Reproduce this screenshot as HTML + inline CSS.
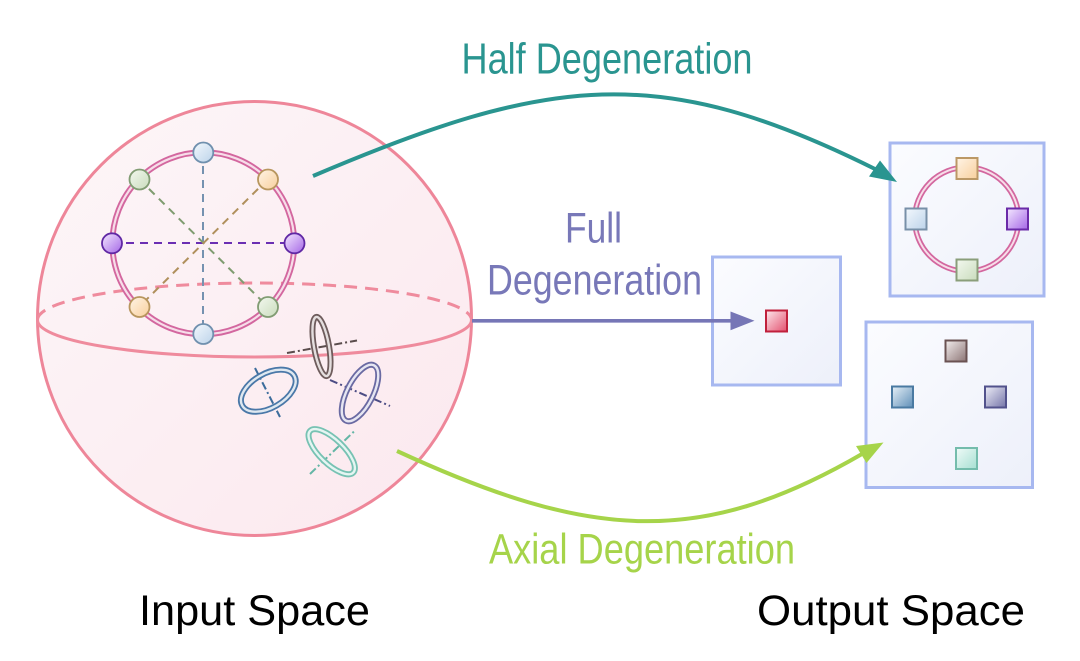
<!DOCTYPE html>
<html>
<head>
<meta charset="utf-8">
<style>
  html,body{margin:0;padding:0;background:#fff;}
  svg{display:block;}
  text{font-family:"Liberation Sans", Arial, sans-serif;}
</style>
</head>
<body>
<svg width="1080" height="661" viewBox="0 0 1080 661" xmlns="http://www.w3.org/2000/svg">
  <defs>
    <linearGradient id="sph" x1="0" y1="0" x2="1" y2="1">
      <stop offset="0" stop-color="#fdf6f8"/>
      <stop offset="1" stop-color="#fbe8ee"/>
    </linearGradient>
    <linearGradient id="box" x1="0" y1="0" x2="1" y2="1">
      <stop offset="0" stop-color="#fbfcff"/>
      <stop offset="1" stop-color="#edf0fa"/>
    </linearGradient>
    <linearGradient id="gOr" x1="0" y1="0" x2="1" y2="1"><stop offset="0" stop-color="#fff4e6"/><stop offset="1" stop-color="#f8cf9c"/></linearGradient>
    <linearGradient id="gBl" x1="0" y1="0" x2="1" y2="1"><stop offset="0" stop-color="#f3f8fd"/><stop offset="1" stop-color="#bcd3ea"/></linearGradient>
    <linearGradient id="gPu" x1="0" y1="0" x2="1" y2="1"><stop offset="0" stop-color="#f4e8ff"/><stop offset="1" stop-color="#a466e6"/></linearGradient>
    <linearGradient id="gGr" x1="0" y1="0" x2="1" y2="1"><stop offset="0" stop-color="#f3f8ef"/><stop offset="1" stop-color="#c9dcbc"/></linearGradient>
    <linearGradient id="gRe" x1="0" y1="0" x2="1" y2="1"><stop offset="0" stop-color="#fde8ec"/><stop offset="1" stop-color="#e3506e"/></linearGradient>
    <linearGradient id="gBr" x1="0" y1="0" x2="1" y2="1"><stop offset="0" stop-color="#f3eeee"/><stop offset="1" stop-color="#8c7474"/></linearGradient>
    <linearGradient id="gSb" x1="0" y1="0" x2="1" y2="1"><stop offset="0" stop-color="#e6f0f7"/><stop offset="1" stop-color="#5f8fb8"/></linearGradient>
    <linearGradient id="gDp" x1="0" y1="0" x2="1" y2="1"><stop offset="0" stop-color="#eeeef8"/><stop offset="1" stop-color="#7474a8"/></linearGradient>
    <linearGradient id="gTe" x1="0" y1="0" x2="1" y2="1"><stop offset="0" stop-color="#f0fbf8"/><stop offset="1" stop-color="#a6dfd2"/></linearGradient>
  </defs>

  <!-- Sphere -->
  <circle cx="254.5" cy="318.5" r="217" fill="url(#sph)" stroke="#ee8699" stroke-width="3"/>

  <!-- equator -->
  <path d="M37.5,320 A217,37 0 0 1 471.5,320" fill="none" stroke="#ef8b9d" stroke-width="3" stroke-dasharray="13 8"/>
  <path d="M37.5,320 A217,37 0 0 0 471.5,320" fill="none" stroke="#ef8b9d" stroke-width="3"/>

  <!-- diameters -->
  <line x1="203" y1="152" x2="203" y2="334" stroke="#7592b0" stroke-width="2" stroke-dasharray="8 6"/>
  <line x1="112" y1="243" x2="294" y2="243" stroke="#6b2fb3" stroke-width="2" stroke-dasharray="8 6"/>
  <line x1="139" y1="179" x2="268" y2="307" stroke="#7f9c70" stroke-width="2" stroke-dasharray="8 6"/>
  <line x1="268" y1="179" x2="139" y2="307" stroke="#b0905c" stroke-width="2" stroke-dasharray="8 6"/>

  <!-- ring -->
  <circle cx="203.3" cy="243.3" r="91" fill="none" stroke="#d3679f" stroke-width="6"/>
  <circle cx="203.3" cy="243.3" r="91" fill="none" stroke="#f7dde9" stroke-width="2.2"/>

  <!-- circle nodes -->
  <circle cx="203.3" cy="152.5" r="10" fill="url(#gBl)" stroke="#7090ae" stroke-width="1.8"/>
  <circle cx="203.3" cy="334" r="10" fill="url(#gBl)" stroke="#7090ae" stroke-width="1.8"/>
  <circle cx="112" cy="243.3" r="10" fill="url(#gPu)" stroke="#6028a4" stroke-width="1.8"/>
  <circle cx="294.5" cy="243.3" r="10" fill="url(#gPu)" stroke="#6028a4" stroke-width="1.8"/>
  <circle cx="139.5" cy="179.5" r="10" fill="url(#gGr)" stroke="#819c73" stroke-width="1.8"/>
  <circle cx="268" cy="307" r="10" fill="url(#gGr)" stroke="#819c73" stroke-width="1.8"/>
  <circle cx="268" cy="179.5" r="10" fill="url(#gOr)" stroke="#b8965e" stroke-width="1.8"/>
  <circle cx="139.5" cy="307" r="10" fill="url(#gOr)" stroke="#b8965e" stroke-width="1.8"/>

  <!-- tori: brown -->
  <line x1="287" y1="353" x2="357" y2="340.5" stroke="#5a4c4c" stroke-width="2" stroke-dasharray="8 3 2 3"/>
  <ellipse cx="321.5" cy="346.5" rx="7.5" ry="30" transform="rotate(-10 321.5 346.5)" fill="none" stroke="#6e5c5c" stroke-width="6"/>
  <ellipse cx="321.5" cy="346.5" rx="7.5" ry="30" transform="rotate(-10 321.5 346.5)" fill="none" stroke="#e4dede" stroke-width="2.4"/>

  <!-- blue -->
  <line x1="255" y1="368" x2="280" y2="417" stroke="#3d6d9c" stroke-width="2" stroke-dasharray="8 3 2 3"/>
  <ellipse cx="268.3" cy="390.7" rx="30" ry="17" transform="rotate(-30 268.3 390.7)" fill="none" stroke="#4a78a8" stroke-width="6"/>
  <ellipse cx="268.3" cy="390.7" rx="30" ry="17" transform="rotate(-30 268.3 390.7)" fill="none" stroke="#dfe8f0" stroke-width="2.4"/>

  <!-- purple -->
  <line x1="330" y1="380" x2="390" y2="406" stroke="#4c4c84" stroke-width="2" stroke-dasharray="8 3 2 3"/>
  <ellipse cx="360" cy="393" rx="13" ry="31" transform="rotate(27 360 393)" fill="none" stroke="#6a6aa2" stroke-width="6"/>
  <ellipse cx="360" cy="393" rx="13" ry="31" transform="rotate(27 360 393)" fill="none" stroke="#e6e6f2" stroke-width="2.4"/>

  <!-- teal -->
  <line x1="310" y1="474" x2="355" y2="430.5" stroke="#64b6a5" stroke-width="2" stroke-dasharray="8 3 2 3"/>
  <ellipse cx="331.7" cy="451.7" rx="30" ry="12" transform="rotate(44 331.7 451.7)" fill="none" stroke="#77c2b3" stroke-width="6"/>
  <ellipse cx="331.7" cy="451.7" rx="30" ry="12" transform="rotate(44 331.7 451.7)" fill="none" stroke="#e5f5f2" stroke-width="2.4"/>

  <!-- Output boxes -->
  <rect x="890" y="143" width="154" height="153" fill="url(#box)" stroke="#a7b8f0" stroke-width="3"/>
  <rect x="712.5" y="257" width="128" height="128" fill="url(#box)" stroke="#a7b8f0" stroke-width="3"/>
  <rect x="866" y="322" width="166.5" height="165.5" fill="url(#box)" stroke="#a7b8f0" stroke-width="3"/>

  <!-- ring in output -->
  <circle cx="966.7" cy="219.3" r="52" fill="none" stroke="#d3679f" stroke-width="5.5"/>
  <circle cx="966.7" cy="219.3" r="52" fill="none" stroke="#f7dde9" stroke-width="2"/>

  <!-- squares -->
  <rect x="956.5" y="158" width="21" height="21" fill="url(#gOr)" stroke="#bb9866" stroke-width="2"/>
  <rect x="905.5" y="208.5" width="21" height="21" fill="url(#gBl)" stroke="#7890a8" stroke-width="2"/>
  <rect x="1007" y="208.5" width="21" height="21" fill="url(#gPu)" stroke="#6a2aa8" stroke-width="2"/>
  <rect x="956.5" y="259.5" width="21" height="21" fill="url(#gGr)" stroke="#8a9e7a" stroke-width="2"/>

  <rect x="766" y="310.5" width="21" height="21" fill="url(#gRe)" stroke="#c0203c" stroke-width="2"/>

  <rect x="945.5" y="340.5" width="21" height="21" fill="url(#gBr)" stroke="#6a5252" stroke-width="2"/>
  <rect x="892" y="386.5" width="21" height="21" fill="url(#gSb)" stroke="#4a7aa2" stroke-width="2"/>
  <rect x="985" y="386.5" width="21" height="21" fill="url(#gDp)" stroke="#52528c" stroke-width="2"/>
  <rect x="956" y="448" width="21" height="21" fill="url(#gTe)" stroke="#74bcac" stroke-width="2"/>

  <!-- Half degeneration arrow -->
  <path d="M313,176 C550,75 660,62 875,169" fill="none" stroke="#2a9590" stroke-width="4"/>
  <polygon points="897,182 869,176.5 880,160.5" fill="#2a9590"/>

  <!-- Full degeneration arrow -->
  <line x1="472" y1="320.8" x2="733" y2="320.8" stroke="#7676b6" stroke-width="3.6"/>
  <polygon points="754.5,320.8 730.5,311.5 730.5,330.2" fill="#7676b6"/>

  <!-- Axial degeneration arrow -->
  <path d="M397,451 C590,540 700,548 862,454" fill="none" stroke="#a6d44a" stroke-width="4"/>
  <polygon points="883.5,442.5 856,446 866.5,463" fill="#a6d44a"/>

  <!-- Labels -->
  <text x="461.5" y="73.5" font-size="44" fill="#2a9590" textLength="291" lengthAdjust="spacingAndGlyphs">Half Degeneration</text>
  <text x="565" y="242.5" font-size="43" fill="#7878b8" textLength="57" lengthAdjust="spacingAndGlyphs">Full</text>
  <text x="487" y="294.5" font-size="43" fill="#7878b8" textLength="215" lengthAdjust="spacingAndGlyphs">Degeneration</text>
  <text x="489" y="563.5" font-size="43" fill="#a6d44a" textLength="306" lengthAdjust="spacingAndGlyphs">Axial Degeneration</text>
  <text x="139" y="625" font-size="43" fill="#000" textLength="231" lengthAdjust="spacingAndGlyphs">Input Space</text>
  <text x="757" y="625" font-size="43" fill="#000" textLength="268" lengthAdjust="spacingAndGlyphs">Output Space</text>
</svg>
</body>
</html>
